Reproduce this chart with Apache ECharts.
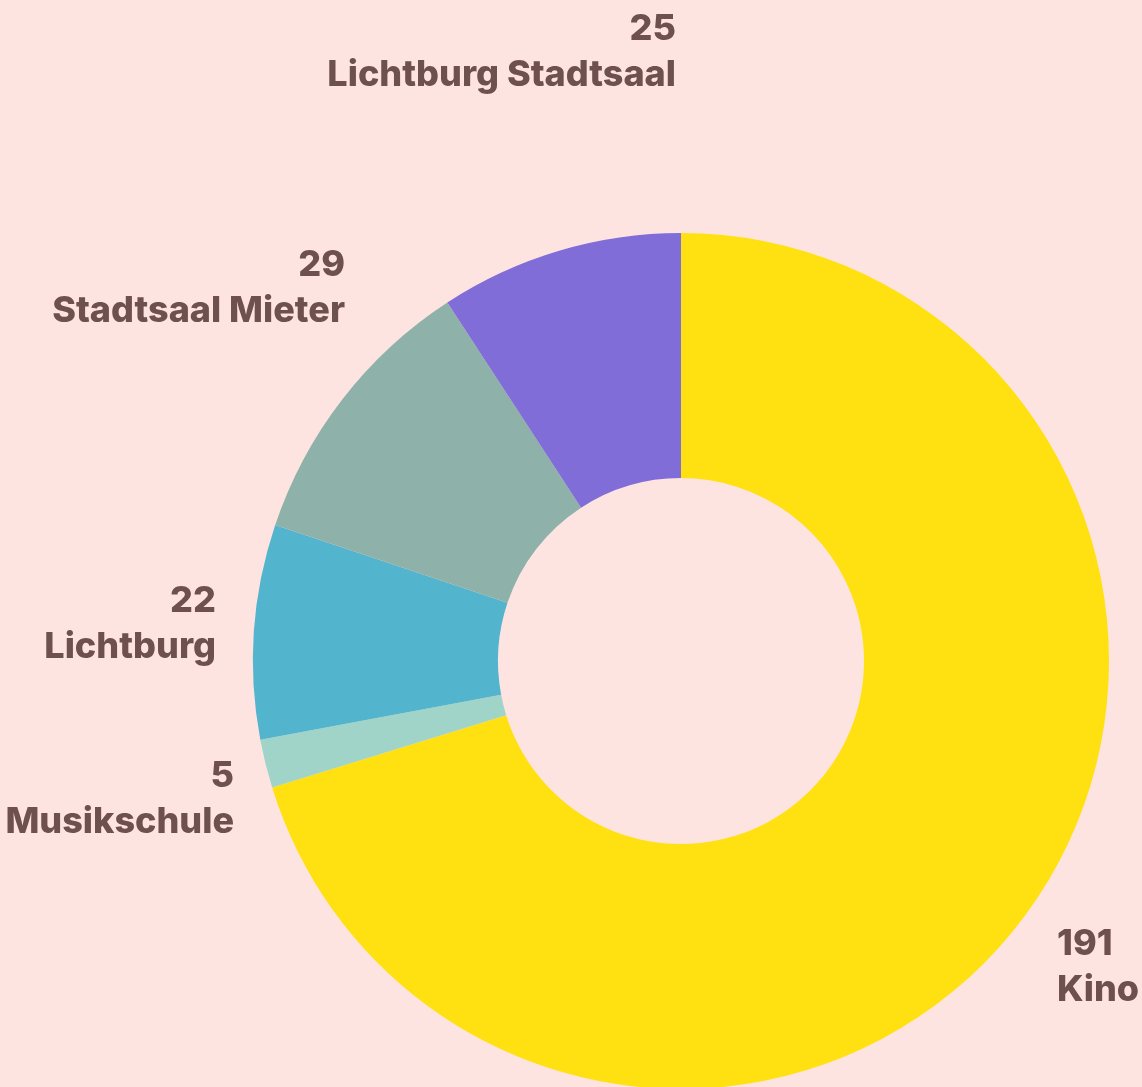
<!DOCTYPE html>
<html>
<head>
<meta charset="utf-8">
<script src="https://cdn.jsdelivr.net/npm/echarts@6/dist/echarts.min.js"></script>
<style>
  html, body { margin: 0; padding: 0; background: #fee4e1; }
  #pieChart { width: 1142px; height: 1087px; }
</style>
</head>
<body>
<div id="pieChart"></div>
<script>
// slices, clockwise from the top
const venues = ['Kino', 'Musikschule', 'Lichtburg', 'Stadtsaal Mieter', 'Lichtburg Stadtsaal'];
const counts = [191, 5, 22, 29, 25];
const sliceColors = ['#ffe011', '#a1d4c9', '#52b4cd', '#8eb2a9', '#816dd8'];

// where each label sits (x, y of its anchor, and which side it hangs from)
const labelSpots = [
  [1057, 967, 'left'],
  [234, 799, 'right'],
  [216, 624, 'right'],
  [345, 288, 'right'],
  [676, 52, 'right']
];

const myChart = echarts.init(document.getElementById('pieChart'));

const option = {
  backgroundColor: '#fee4e1',
  series: [{
    type: 'pie',
    center: [681, 661],
    radius: [183, 428],
    startAngle: 90,
    clockwise: true,
    avoidLabelOverlap: false,
    silent: true,
    data: venues.map((name, i) => ({
      name: name,
      value: counts[i],
      itemStyle: { color: sliceColors[i] }
    })),
    label: {
      show: true,
      position: 'outside',
      formatter: '{v|{c}}\n{n|{b}}',
      rich: {
        v: { fontFamily: 'Inter', fontWeight: 800, fontSize: 36, lineHeight: 46, color: '#6e504e' },
        n: { fontFamily: 'Inter', fontWeight: 800, fontSize: 36, lineHeight: 46, color: '#6e504e' }
      }
    },
    labelLine: { show: false },
    labelLayout: function (params) {
      const spot = labelSpots[params.dataIndex];
      return { x: spot[0], y: spot[1], align: spot[2], verticalAlign: 'middle' };
    }
  }]
};
myChart.setOption(option);
</script>
</body>
</html>
